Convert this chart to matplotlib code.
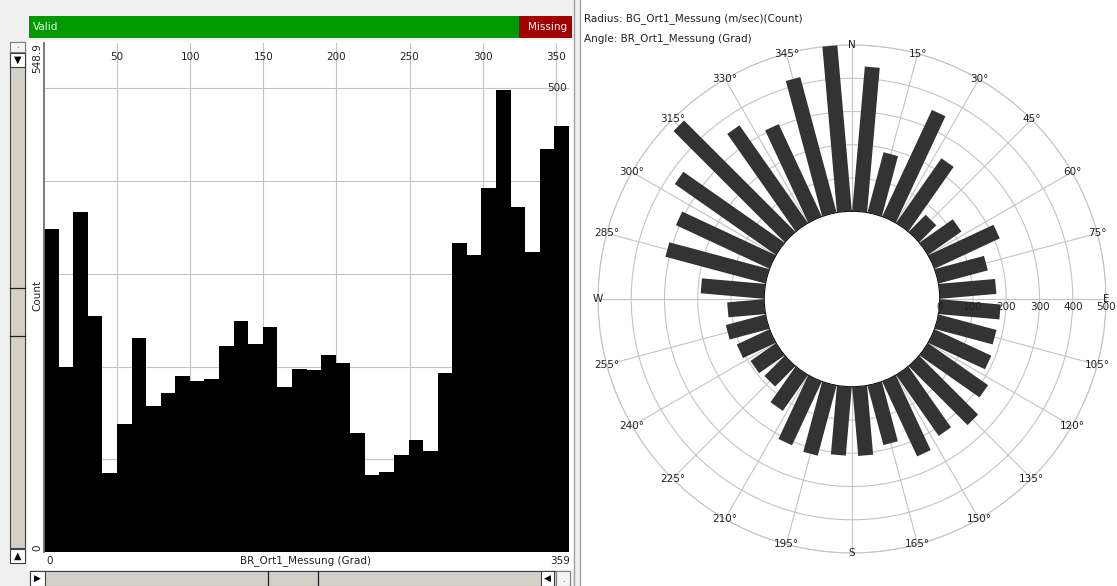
import numpy as np
import matplotlib
matplotlib.use('Agg')
import matplotlib.pyplot as plt
import matplotlib.transforms as mtransforms
from matplotlib.patches import Rectangle, Polygon

W, H = 1117, 586

# histogram of BR_Ort1_Messung (Grad): 36 bins over 0..359
HIST_COUNTS = [348, 199, 367, 254, 85, 138, 231, 157, 172, 190, 184, 187,
               222, 249, 224, 243, 178, 197, 196, 212, 204, 128, 83, 86,
               105, 121, 109, 193, 333, 320, 393, 498, 372, 324, 435, 459]
X_MIN, X_MAX = 0, 359
Y_MAX = 548.9
X_TICKS = [50, 100, 150, 200, 250, 300, 350]
Y_GRID = [100, 200, 300, 400, 500]

# wind rose: counts per 10 degree sector centred on 5, 15, ..., 355
ROSE_ANGLES = list(range(5, 360, 10))
ROSE_COUNTS = [436, 187, 353, 237, 72, 122, 216, 153, 170, 183, 180, 188,
               220, 250, 223, 248, 185, 208, 207, 218, 211, 131, 86, 93,
               108, 123, 111, 191, 311, 310, 371, 473, 358, 306, 421, 505]
ROSE_RINGS = [100, 200, 300, 400, 500]
ROSE_RLABELS = ['0', '100', '200', '300', '400', '500']
CARDINALS = {0: 'N', 90: 'E', 180: 'S', 270: 'W'}

GRID_COLOR = '#c4c4c4'
BAR_COLOR = '#333333'
TROUGH = '#d4d0c8'
FS = 7.5

fig = plt.figure(figsize=(W / 100, H / 100), dpi=100)
fig.patch.set_facecolor('white')


def px_rect(x0, y0, x1, y1, zorder=5, **kw):
    r = Rectangle((x0 / W, 1 - y1 / H), (x1 - x0) / W, (y1 - y0) / H,
                  transform=fig.transFigure, zorder=zorder, **kw)
    fig.add_artist(r)


def px_text(x, y, s, **kw):
    kw.setdefault('fontsize', FS)
    kw.setdefault('color', '#222222')
    kw.setdefault('zorder', 6)
    fig.text(x / W, 1 - y / H, s, **kw)


def px_line(x0, y0, x1, y1, zorder=6, **kw):
    fig.add_artist(plt.Line2D([x0 / W, x1 / W], [1 - y0 / H, 1 - y1 / H],
                              transform=fig.transFigure, zorder=zorder, **kw))


# ---- left panel frame / widgets ----
px_rect(0, 0, 580, H, zorder=-10, facecolor='#f0f0f0', edgecolor='none')
px_rect(27, 40, 574, 570, zorder=-9, facecolor='white', edgecolor='none')
px_rect(29, 16, 519, 38, facecolor='#009900', edgecolor='none')
px_rect(519, 16, 572, 38, facecolor='#a50000', edgecolor='none')
px_text(33, 27, 'Valid', color='#e8ffe8', va='center', ha='left')
px_text(567, 27, 'Missing', color='white', va='center', ha='right')
px_line(574, 0, 574, H, color='#a0a0a0', lw=1)
px_line(580, 0, 580, H, color='#a0a0a0', lw=1)

# vertical scrollbar
px_rect(10, 42, 25, 548, facecolor=TROUGH, edgecolor='#404040', lw=0.8)
px_rect(10, 42, 25, 52, facecolor='#f4f4f4', edgecolor='#808080', lw=0.8)
px_text(17.5, 46, '.', ha='center', va='center', fontsize=6)
px_rect(10, 53, 25, 67, facecolor='white', edgecolor='#404040', lw=0.8)
px_text(17.5, 60, '\u25BC', ha='center', va='center', fontsize=7, color='black')
px_rect(10, 549, 25, 563, facecolor='white', edgecolor='#404040', lw=0.8)
px_text(17.5, 556, '\u25B2', ha='center', va='center', fontsize=7, color='black')
px_line(10, 288, 25, 288, color='#202020', lw=0.9)
px_line(10, 336, 25, 336, color='#202020', lw=0.9)

# horizontal scrollbar
px_rect(30, 571, 566, 586, facecolor=TROUGH, edgecolor='#404040', lw=0.8)
px_rect(30, 571, 45, 586, facecolor='white', edgecolor='#404040', lw=0.8)
px_text(37.5, 578, '\u25B6', ha='center', va='center', fontsize=6.5, color='black')
px_rect(541, 571, 554, 586, facecolor='white', edgecolor='#404040', lw=0.8)
px_text(547.5, 578, '\u25C0', ha='center', va='center', fontsize=6.5, color='black')
px_rect(556, 571, 570, 586, facecolor='#f4f4f4', edgecolor='#808080', lw=0.8)
px_text(563, 580, '.', ha='center', va='center', fontsize=6)
px_line(268, 571, 268, 586, color='#202020', lw=0.9)
px_line(318, 571, 318, 586, color='#202020', lw=0.9)

# ---- histogram ----
ax = fig.add_axes([44 / W, 1 - 552 / H, 525 / W, 509 / H])
edges = np.linspace(X_MIN, X_MAX, len(HIST_COUNTS) + 1)
ax.stairs(HIST_COUNTS, edges, fill=True, color='black', zorder=2)
ax.set_xlim(X_MIN, X_MAX)
ax.set_ylim(0, Y_MAX)
ax.set_xticks(X_TICKS)
ax.set_yticks(Y_GRID)
ax.tick_params(length=0, labelbottom=False, labelleft=False)
ax.grid(color=GRID_COLOR, lw=0.8)
ax.set_axisbelow(True)
for s in ['top', 'right', 'bottom']:
    ax.spines[s].set_visible(False)
ax.spines['left'].set_color('#707070')
ax.spines['left'].set_linewidth(1.3)

xtop = mtransforms.blended_transform_factory(ax.transData, ax.transAxes)
for t in X_TICKS:
    ax.text(t, 1 - 14 / 509, str(t), transform=xtop, ha='center', va='center',
            fontsize=FS, color='#222222')
yright = mtransforms.blended_transform_factory(ax.transAxes, ax.transData)
ax.text(0.995, Y_GRID[-1], str(Y_GRID[-1]), transform=yright, ha='right',
        va='center', fontsize=FS, color='#222222')

px_text(37, 58, f'{Y_MAX}', rotation=90, ha='center', va='center')
px_text(37, 548, '0', rotation=90, ha='center', va='center')
px_text(37, 295, 'Count', rotation=90, ha='center', va='center')
px_text(46, 561, str(X_MIN), ha='left', va='center')
px_text(305, 561, 'BR_Ort1_Messung (Grad)', ha='center', va='center')
px_text(570, 561, str(X_MAX), ha='right', va='center')

# ---- wind rose ----
px_text(584, 19, 'Radius: BG_Ort1_Messung (m/sec)(Count)', ha='left', va='center')
px_text(584, 39, 'Angle: BR_Ort1_Messung (Grad)', ha='left', va='center')

R_ORIGIN = 264
pax = fig.add_axes([598 / W, 1 - 553 / H, 508 / W, 508 / H], projection='polar')
pax.set_theta_zero_location('N')
pax.set_theta_direction(-1)
pax.set_ylim(0, ROSE_RINGS[-1])
pax.set_rorigin(-R_ORIGIN)
pax.set_thetagrids(range(0, 360, 15), labels=[''] * 24)
pax.set_rgrids(ROSE_RINGS, labels=[''] * len(ROSE_RINGS))
pax.grid(color=GRID_COLOR, lw=0.8)
pax.spines['polar'].set_color(GRID_COLOR)
pax.spines['polar'].set_linewidth(0.8)
if 'inner' in pax.spines:
    pax.spines['inner'].set_visible(False)
pax.set_facecolor('white')

# rectangular (constant width) bars
half_w = 22.5
for ang, val in zip(ROSE_ANGLES, ROSE_COUNTS):
    th0 = np.deg2rad(ang)
    pts = []
    for a, p in [(R_ORIGIN, -half_w), (R_ORIGIN + val, -half_w),
                 (R_ORIGIN + val, half_w), (R_ORIGIN, half_w)]:
        pts.append((th0 + np.arctan2(p, a), np.hypot(a, p) - R_ORIGIN))
    pax.add_patch(Polygon(pts, closed=True, facecolor=BAR_COLOR,
                          edgecolor='none', zorder=3))

for a in range(0, 360, 15):
    lab = CARDINALS.get(a, f'{a}\u00b0')
    pax.text(np.deg2rad(a), ROSE_RINGS[-1], lab, ha='center', va='center',
             fontsize=FS, color='#222222', clip_on=False, zorder=4)

rl_pos = [0] + ROSE_RINGS
for r, lab in zip(rl_pos, ROSE_RLABELS):
    pax.annotate(lab, (np.deg2rad(90), r), xytext=(0, -2),
                 textcoords='offset points', ha='center', va='top',
                 fontsize=FS, color='#222222', annotation_clip=False, zorder=4)

fig.savefig('out.png', dpi=100)
